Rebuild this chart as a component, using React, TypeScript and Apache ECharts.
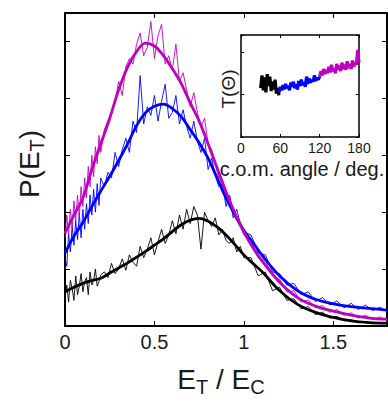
import React, { useEffect, useRef } from 'react';
import * as echarts from 'echarts';

// Main panel: noisy data (shared abscissa) and smooth fits
const X_RAW = [
  0, 0.01, 0.02, 0.03, 0.04, 0.05, 0.06, 0.07, 0.08, 0.09, 0.1, 0.11, 0.12, 0.13, 0.14, 0.15, 0.16, 0.17, 0.18, 0.19, 0.2,
  0.22, 0.24, 0.26, 0.28, 0.3, 0.32, 0.34, 0.36, 0.38, 0.4, 0.42, 0.44, 0.46, 0.48, 0.5, 0.52, 0.54, 0.56, 0.58, 0.6,
  0.62, 0.64, 0.66, 0.68, 0.7, 0.72, 0.74, 0.76, 0.78, 0.8, 0.82, 0.84, 0.86, 0.88, 0.9, 0.92, 0.94, 0.96, 0.98, 1.0,
  1.04, 1.08, 1.12, 1.16, 1.2, 1.24, 1.28, 1.32, 1.36, 1.4, 1.44, 1.48, 1.52, 1.56, 1.6, 1.64, 1.68, 1.72, 1.76, 1.8,
];
const RAW_MAGENTA = [
  1.55, 1.95, 1.6, 2.05, 1.72, 2.2, 1.85, 2.3, 1.92, 2.45, 2.1, 2.6, 2.25, 2.8, 2.45, 3.0, 2.62, 3.15, 2.85, 3.35, 3.05,
  3.45, 3.6, 3.75, 3.95, 4.3, 4.05, 4.55, 4.7, 4.6, 4.95, 5.15, 4.75, 4.9, 5.35, 4.7, 5.1, 5.3, 4.6, 4.75, 4.5,
  4.95, 4.3, 4.45, 4.15, 3.85, 4.1, 3.75, 3.5, 3.65, 3.2, 3.1, 2.85, 2.6, 2.5, 2.2, 2.3, 2.0, 1.85, 1.78, 1.6,
  1.5, 1.2, 1.15, 0.88, 0.82, 0.6, 0.62, 0.42, 0.46, 0.32, 0.36, 0.24, 0.29, 0.19, 0.23, 0.14, 0.19, 0.11, 0.16, 0.1,
];
const RAW_BLUE = [
  1.2, 1.05, 1.62, 1.3, 1.75, 1.42, 1.85, 1.52, 1.98, 1.55, 2.05, 1.7, 2.15, 1.8, 2.3, 1.95, 2.4, 2.0, 2.5, 2.12, 2.6,
  2.45, 2.7, 2.6, 3.05, 2.8, 3.1, 3.3, 3.05, 3.6, 3.4, 4.4, 3.55, 3.85, 3.7, 4.05, 3.6, 3.95, 4.25, 3.65, 3.75,
  4.05, 3.55, 3.8, 3.5, 3.3, 3.6, 3.25, 3.05, 3.3, 2.75, 2.95, 2.65, 2.45, 2.5, 2.1, 2.3, 1.9, 2.05, 1.8, 1.65,
  1.6, 1.28, 1.25, 0.95, 0.92, 0.72, 0.75, 0.55, 0.6, 0.43, 0.5, 0.37, 0.44, 0.32, 0.4, 0.29, 0.37, 0.27, 0.33, 0.26,
];
const RAW_BLACK = [
  0.5, 0.72, 0.42, 0.8, 0.66, 0.45, 0.88, 0.55, 0.7, 0.92, 0.6, 0.78, 0.85, 0.55, 0.95, 0.72, 0.8, 1.0, 0.7, 0.78, 0.9,
  0.95, 0.85, 1.1, 0.92, 1.0, 1.18, 0.98, 1.25, 1.12, 1.05, 1.4, 1.2, 1.35, 1.55, 1.25, 1.48, 1.7, 1.45, 1.6, 1.85,
  1.62, 1.95, 1.7, 2.05, 1.8, 2.1, 1.95, 1.35, 2.0, 1.85, 1.75, 1.9, 1.6, 1.7, 1.5, 1.45, 1.55, 1.3, 1.4, 1.2,
  1.2, 0.88, 0.95, 0.62, 0.68, 0.45, 0.48, 0.3, 0.34, 0.2, 0.24, 0.14, 0.17, 0.09, 0.11, 0.06, 0.08, 0.04, 0.06, 0.04,
];

const X_FIT = [
  0, 0.05, 0.1, 0.15, 0.2, 0.25, 0.3, 0.35, 0.4, 0.45, 0.5, 0.55, 0.6, 0.65, 0.7, 0.75, 0.8, 0.85, 0.9, 0.95, 1.0, 1.05, 1.1,
  1.2, 1.3, 1.4, 1.5, 1.6, 1.7, 1.8,
];
const FIT_MAGENTA = [
  1.63, 1.95, 2.25, 2.75, 3.2, 3.65, 4.15, 4.55, 4.82, 4.97, 4.92, 4.75, 4.52, 4.26, 3.92, 3.6, 3.2, 2.78, 2.36, 1.98, 1.65, 1.38, 1.15,
  0.77, 0.5, 0.35, 0.26, 0.19, 0.14, 0.12,
];
const FIT_BLUE = [
  1.28, 1.58, 1.82, 2.1, 2.37, 2.63, 2.91, 3.2, 3.52, 3.75, 3.86, 3.9, 3.82, 3.68, 3.45, 3.22, 2.95, 2.6, 2.25, 1.95, 1.68, 1.47, 1.25,
  0.88, 0.62, 0.47, 0.39, 0.34, 0.31, 0.28,
];
const FIT_BLACK = [
  0.6, 0.68, 0.75, 0.8, 0.84, 0.93, 1.02, 1.11, 1.21, 1.31, 1.42, 1.53, 1.66, 1.78, 1.86, 1.89, 1.84, 1.74, 1.6, 1.43, 1.25, 1.1, 0.96,
  0.62, 0.38, 0.24, 0.15, 0.09, 0.06, 0.05,
];

// Inset: T(Theta) vs c.o.m. angle
const ANG_BLACK = [30, 32, 34, 36, 38, 40, 42, 44, 46, 48, 50, 52, 54, 56, 58];
const T_BLACK = [1.15, 1.45, 1.1, 1.4, 1.05, 1.48, 1.2, 1.42, 1.08, 1.3, 1.12, 1.35, 1.02, 1.15, 0.98];
const ANG_BLUE = [
  58, 60, 62, 64, 66, 68, 70, 72, 74, 76, 78, 80, 82, 84, 86, 88, 90, 92, 94, 96, 98, 100, 102, 104, 106, 108, 110, 112, 114, 116, 118, 120,
];
const T_BLUE = [
  1.05, 1.18, 1.1, 1.22, 1.12, 1.25, 1.15, 1.2, 1.1, 1.28, 1.18, 1.3, 1.15, 1.24, 1.12, 1.32, 1.2, 1.35, 1.22, 1.28, 1.18, 1.42, 1.25,
  1.38, 1.28, 1.35, 1.3, 1.45, 1.32, 1.4, 1.35, 1.42,
];
const ANG_MAGENTA = [
  120, 122, 124, 126, 128, 130, 132, 134, 136, 138, 140, 142, 144, 146, 148, 150, 152, 154, 156, 158, 160, 162, 164, 166, 168, 170,
  172, 174, 176, 178, 180,
];
const T_MAGENTA = [
  1.42, 1.55, 1.45, 1.6, 1.48, 1.58, 1.5, 1.65, 1.52, 1.7, 1.55, 1.62, 1.5, 1.72, 1.58, 1.68, 1.55, 1.75, 1.6, 1.7, 1.58, 1.78, 1.62,
  1.72, 1.6, 1.8, 1.65, 1.75, 1.7, 2.05, 1.75,
];

const MAGENTA = '#bf00bf';
const BLUE = '#0000ff';
const BLACK = '#000000';
const FONT = "'Liberation Sans', Arial, Helvetica, sans-serif";
const TEXT = '#1a1a1a';

export default function App() {
  const ref = useRef<HTMLDivElement>(null);

  useEffect(() => {
    if (!ref.current) return;
    const chart = echarts.init(ref.current, null, { renderer: 'svg' });
    const pair = (xs: number[], ys: number[]) => xs.map((x, i) => [x, ys[i]]);

    const mainLine = { color: '#000', width: 2 };
    const insetLine = { color: '#000', width: 1.5 };
    const mainTick = { show: true, inside: true, length: 5, lineStyle: { color: '#000', width: 1 } };
    const insetTick = { show: true, inside: true, length: 3, lineStyle: { color: '#000', width: 1 } };
    const noLabel = { show: false };
    const noSplit = { show: false };

    const thin = (name: string, ys: number[], color: string) => ({
      name,
      type: 'line',
      xAxisIndex: 0,
      yAxisIndex: 0,
      data: pair(X_RAW, ys),
      showSymbol: false,
      symbol: 'none',
      lineStyle: { color, width: 0.9 },
      z: 2,
    });
    const thick = (name: string, ys: number[], color: string) => ({
      name,
      type: 'line',
      xAxisIndex: 0,
      yAxisIndex: 0,
      data: pair(X_FIT, ys),
      showSymbol: false,
      symbol: 'none',
      smooth: 0.4,
      lineStyle: { color, width: 2.8 },
      z: 3,
    });
    const inset = (name: string, xs: number[], ys: number[], color: string) => ({
      name,
      type: 'line',
      xAxisIndex: 2,
      yAxisIndex: 2,
      data: pair(xs, ys),
      showSymbol: false,
      symbol: 'none',
      lineStyle: { color, width: 3.2 },
      z: 5,
    });

    chart.setOption({
      animation: false,
      backgroundColor: '#ffffff',
      grid: [
        { left: 65, top: 13, width: 322, height: 313, show: true, backgroundColor: '#fff', borderWidth: 0 },
        { left: 241, top: 35, width: 118, height: 102, show: true, backgroundColor: '#fff', borderWidth: 0 },
      ],
      xAxis: [
        {
          gridIndex: 0, type: 'value', min: 0, max: 1.8, interval: 0.5, position: 'bottom',
          axisLine: { show: true, onZero: false, lineStyle: mainLine },
          axisTick: mainTick,
          axisLabel: { show: true, fontSize: 20, color: TEXT, fontFamily: FONT, margin: 6, showMaxLabel: false },
          splitLine: noSplit,
        },
        {
          gridIndex: 0, type: 'value', min: 0, max: 1.8, interval: 0.5, position: 'top',
          axisLine: { show: true, onZero: false, lineStyle: mainLine },
          axisTick: mainTick, axisLabel: noLabel, splitLine: noSplit,
        },
        {
          gridIndex: 1, type: 'value', min: 0, max: 180, interval: 60, position: 'bottom',
          axisLine: { show: true, onZero: false, lineStyle: insetLine },
          axisTick: insetTick,
          axisLabel: { show: true, fontSize: 14, color: TEXT, fontFamily: FONT, margin: 4 },
          splitLine: noSplit,
        },
        {
          gridIndex: 1, type: 'value', min: 0, max: 180, interval: 60, position: 'top',
          axisLine: { show: true, onZero: false, lineStyle: insetLine },
          axisTick: insetTick, axisLabel: noLabel, splitLine: noSplit,
        },
      ],
      yAxis: [
        {
          gridIndex: 0, type: 'value', min: 0, max: 5.5, interval: 1, position: 'left',
          axisLine: { show: true, onZero: false, lineStyle: mainLine },
          axisTick: mainTick, axisLabel: noLabel, splitLine: noSplit,
        },
        {
          gridIndex: 0, type: 'value', min: 0, max: 5.5, interval: 1, position: 'right',
          axisLine: { show: true, onZero: false, lineStyle: mainLine },
          axisTick: mainTick, axisLabel: noLabel, splitLine: noSplit,
        },
        {
          gridIndex: 1, type: 'value', min: 0, max: 2.4, interval: 1, position: 'left',
          axisLine: { show: true, onZero: false, lineStyle: insetLine },
          axisTick: insetTick, axisLabel: noLabel, splitLine: noSplit,
        },
        {
          gridIndex: 1, type: 'value', min: 0, max: 2.4, interval: 1, position: 'right',
          axisLine: { show: true, onZero: false, lineStyle: insetLine },
          axisTick: insetTick, axisLabel: noLabel, splitLine: noSplit,
        },
      ],
      series: [
        thin('black data', RAW_BLACK, BLACK),
        thin('blue data', RAW_BLUE, BLUE),
        thin('magenta data', RAW_MAGENTA, MAGENTA),
        thick('black fit', FIT_BLACK, BLACK),
        thick('blue fit', FIT_BLUE, BLUE),
        thick('magenta fit', FIT_MAGENTA, MAGENTA),
        inset('black T', ANG_BLACK, T_BLACK, BLACK),
        inset('blue T', ANG_BLUE, T_BLUE, BLUE),
        inset('magenta T', ANG_MAGENTA, T_MAGENTA, MAGENTA),
      ],
      graphic: [
        {
          type: 'text', x: 221, y: 379, z: 20,
          style: {
            text: '{a|E}{b|T}{a| / E}{b|C}',
            align: 'center', verticalAlign: 'middle', fill: TEXT,
            rich: {
              a: { fontSize: 28, fontFamily: FONT, fill: TEXT },
              b: { fontSize: 20, fontFamily: FONT, fill: TEXT, padding: [16, 0, 0, 0] },
            },
          },
        },
        {
          type: 'text', x: 29, y: 164, rotation: Math.PI / 2, z: 20,
          style: {
            text: '{a|P(E}{b|T}{a|)}',
            align: 'center', verticalAlign: 'middle', fill: TEXT,
            rich: {
              a: { fontSize: 28, fontFamily: FONT, fill: TEXT },
              b: { fontSize: 20, fontFamily: FONT, fill: TEXT, padding: [16, 0, 0, 0] },
            },
          },
        },
        {
          type: 'text', x: 228, y: 89, rotation: Math.PI / 2, z: 20,
          style: { text: 'T(Θ)', fontSize: 19, fontFamily: FONT, fill: TEXT, align: 'center', verticalAlign: 'middle' },
        },
        {
          type: 'text', x: 302, y: 169, z: 20,
          style: { text: 'c.o.m. angle / deg.', fontSize: 20, fontFamily: FONT, fill: TEXT, align: 'center', verticalAlign: 'middle' },
        },
      ],
    });

    return () => chart.dispose();
  }, []);

  return (
    <div
      ref={ref}
      style={{ position: 'fixed', left: 0, top: 0, width: 388, height: 404, background: '#fff' }}
    />
  );
}
